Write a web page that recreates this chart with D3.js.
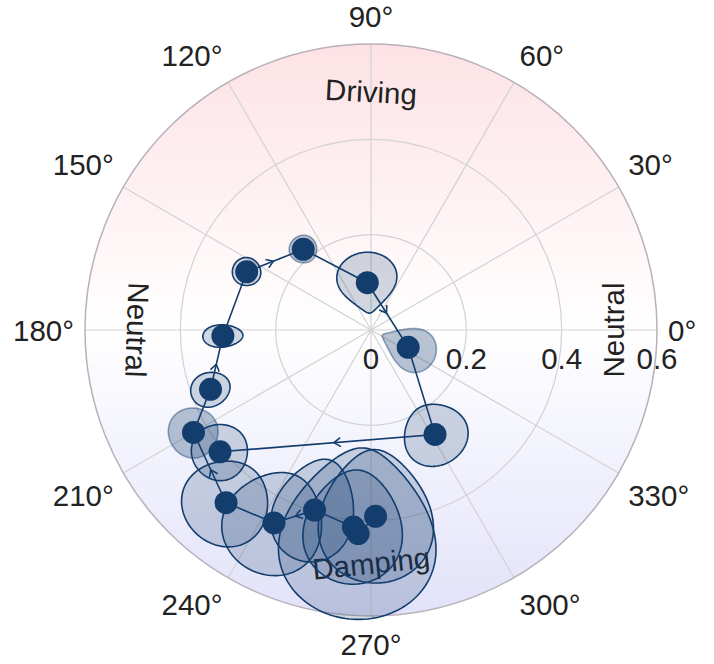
<!DOCTYPE html>
<html>
<head>
<meta charset="utf-8">
<script src="https://cdn.jsdelivr.net/npm/d3@7"></script>
<style>
  body { margin: 0; background: #fff; }
  text { font-family: "Liberation Sans", Arial, sans-serif; fill: #222; }
</style>
</head>
<body>
<svg id="chart" width="714" height="664"></svg>
<script>
// phase (deg) and amplitude of each step, in time order
const phase = [271.4, 266.4, 264.9, 252.6, 243.3, 230.0, 210.0, 200.3, 182.3, 154.9, 130.0, 94.5, 335.1, 301.5, 218.9];
const amplitude = [0.391, 0.428, 0.415, 0.396, 0.453, 0.473, 0.430, 0.359, 0.311, 0.288, 0.221, 0.0995, 0.086, 0.257, 0.407];
// uncertainty half-widths
const phaseSpread = [17, 21, 14, 12, 13, 11, 7, 5.7, 4.3, 5.8, 7.5, 33, 27, 15, 8.3];
const amplitudeSpread = [0.14, 0.18, 0.12, 0.11, 0.11, 0.09, 0.052, 0.042, 0.042, 0.03, 0.029, 0.064, 0.06, 0.065, 0.059];
const faint = [0, 0, 0, 0, 0, 0, 1, 0, 0, 0, 1, 0, 1, 0, 0];

const radialTicks = [0, 0.2, 0.4, 0.6];
const angleTicks = [0, 30, 60, 90, 120, 150, 180, 210, 240, 270, 300, 330];
const zoneNames = ["Neutral", "Driving", "Neutral", "Damping"];
const zoneAngles = [0, 90, 180, 270];

const cx = 371, cy = 330, outer = 286;
const navy = "#133d6d";
const fontSize = "29.5px";

const r = d3.scaleLinear().domain([0, 0.6]).range([0, outer]);
const a = d3.scaleLinear().domain([0, 360]).range([Math.PI / 2, Math.PI / 2 - 2 * Math.PI]);
const pt = (deg, v) => d3.pointRadial(a(deg), r(v));

const svg = d3.select("#chart");
const defs = svg.append("defs");
const grad = defs.append("linearGradient")
  .attr("id", "bg")
  .attr("gradientUnits", "userSpaceOnUse")
  .attr("x1", 0).attr("y1", -outer).attr("x2", 0).attr("y2", outer);
grad.append("stop").attr("offset", 0).attr("stop-color", "#fde2e5");
grad.append("stop").attr("offset", 0.5).attr("stop-color", "#ffffff");
grad.append("stop").attr("offset", 1).attr("stop-color", "#e2e2fa");

const g = svg.append("g").attr("transform", `translate(${cx},${cy})`);

// background disc
g.append("circle").attr("r", outer).attr("fill", "url(#bg)");

// grid
g.selectAll(".ring")
  .data(radialTicks.filter(d => d > 0 && d < 0.6))
  .enter()
  .append("circle")
  .attr("r", d => r(d))
  .attr("fill", "none")
  .attr("stroke", "#d2d2d2")
  .attr("stroke-width", 1.2);

g.selectAll(".spoke")
  .data(angleTicks)
  .enter()
  .append("line")
  .attr("x1", 0).attr("y1", 0)
  .attr("x2", d => pt(d, 0.6)[0])
  .attr("y2", d => pt(d, 0.6)[1])
  .attr("stroke", "#d2d2d2")
  .attr("stroke-width", 1.2);

g.append("circle")
  .attr("r", outer)
  .attr("fill", "none")
  .attr("stroke", "#b9b0ba")
  .attr("stroke-width", 1.5);

// zone labels
const zoneR = [0.508, 0.5, 0.49, 0.489];
const zoneRot = [-90, 3, 92, -6];
g.selectAll(".zone")
  .data(zoneNames)
  .enter()
  .append("text")
  .attr("transform", (d, i) => {
    const p = pt(zoneAngles[i], zoneR[i]);
    return `translate(${p[0]},${p[1]}) rotate(${zoneRot[i]})`;
  })
  .attr("text-anchor", "middle")
  .attr("dy", "0.36em")
  .style("font-size", fontSize)
  .text(d => d);

// uncertainty regions
const blob = d3.lineRadial()
  .angle(d => a(d[0]))
  .radius(d => r(d[1]))
  .curve(d3.curveLinearClosed);

const regionPts = i => d3.range(0, 2 * Math.PI, Math.PI / 90).map(t => [
  phase[i] + phaseSpread[i] * Math.cos(t),
  amplitude[i] + amplitudeSpread[i] * Math.sin(t)
]);

g.selectAll(".region")
  .data(phase)
  .enter()
  .append("path")
  .attr("d", (d, i) => blob(regionPts(i)))
  .attr("fill", navy)
  .attr("fill-opacity", (d, i) => faint[i] ? 0.3 : 0.2)
  .attr("stroke", navy)
  .attr("stroke-opacity", (d, i) => faint[i] ? 0.45 : 1)
  .attr("stroke-width", 1.6);

// trajectory
const points = phase.map((d, i) => pt(d, amplitude[i]));
g.append("path")
  .attr("d", d3.line()(points))
  .attr("fill", "none")
  .attr("stroke", navy)
  .attr("stroke-width", 1.6);

// arrow heads on every other segment
const segs = d3.range(1, points.length - 1, 2);
g.selectAll(".arrow")
  .data(segs)
  .enter()
  .append("path")
  .attr("d", i => {
    const p0 = points[i], p1 = points[i + 1];
    const ang = Math.atan2(p1[1] - p0[1], p1[0] - p0[0]);
    const tx = p0[0] + (p1[0] - p0[0]) * 0.47;
    const ty = p0[1] + (p1[1] - p0[1]) * 0.47;
    const L = 8, s = 0.6;
    const b1 = [tx - L * Math.cos(ang - s), ty - L * Math.sin(ang - s)];
    const b2 = [tx - L * Math.cos(ang + s), ty - L * Math.sin(ang + s)];
    return `M${b1}L${tx},${ty}L${b2}`;
  })
  .attr("fill", "none")
  .attr("stroke", navy)
  .attr("stroke-width", 1.6);

g.selectAll(".dot")
  .data(points)
  .enter()
  .append("circle")
  .attr("cx", d => d[0])
  .attr("cy", d => d[1])
  .attr("r", 11.5)
  .attr("fill", navy);

// radial tick labels
g.selectAll(".rlab")
  .data(radialTicks)
  .enter()
  .append("text")
  .attr("x", d => r(d))
  .attr("y", 39)
  .attr("text-anchor", "middle")
  .style("font-size", fontSize)
  .text(d => d === 0 ? "0" : d.toFixed(1));

// angular tick labels
const capH = 21, labR = 297, lift = 17;
g.selectAll(".alab")
  .data(angleTicks)
  .enter()
  .append("text")
  .style("font-size", fontSize)
  .text(d => d + "°")
  .each(function (d) {
    const rad = d * Math.PI / 180;
    const c = Math.cos(rad), s = Math.sin(rad);
    const p = pt(d, r.invert(labR));
    const anchor = c > 0.01 ? "start" : c < -0.01 ? "end" : "middle";
    const yc = p[1] - Math.sign(Math.round(s * 100)) * lift;
    d3.select(this)
      .attr("x", p[0])
      .attr("y", yc + capH / 2)
      .attr("text-anchor", anchor);
  });
</script>
</body>
</html>
